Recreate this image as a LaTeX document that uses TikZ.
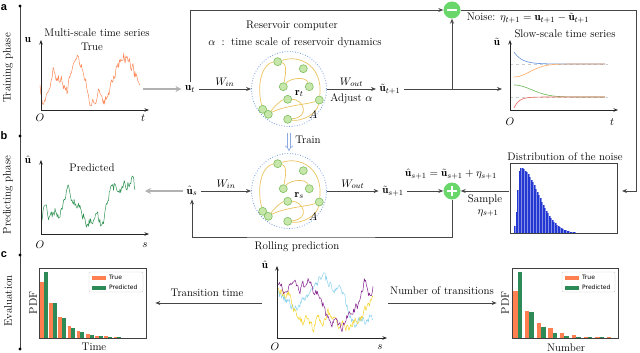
\documentclass[tikz,border=0pt]{standalone}
\usepackage{amsmath}
\usepackage{fontspec}
\usetikzlibrary{arrows.meta}
\newfontfamily\labfont{Liberation Sans}
\newfontfamily\mplfont{DejaVu Sans}
\definecolor{lgray}{RGB}{70,70,70}
\definecolor{agray}{RGB}{178,178,178}
\definecolor{serorange}{RGB}{250,135,85}
\definecolor{sergreen}{RGB}{45,145,80}
\definecolor{hcoral}{RGB}{255,127,80}
\definecolor{hgreen}{RGB}{46,139,87}
\definecolor{hblue}{RGB}{35,55,210}
\definecolor{pmgreen}{RGB}{105,215,105}
\definecolor{resblue}{RGB}{110,150,220}
\definecolor{resedgecol}{RGB}{235,195,95}
\definecolor{resnodefill}{RGB}{198,230,170}
\definecolor{resnodedraw}{RGB}{125,190,95}
\definecolor{trainblue}{RGB}{140,170,225}
\definecolor{cblue}{RGB}{95,145,220}
\definecolor{corange}{RGB}{255,170,100}
\definecolor{cgreen}{RGB}{105,180,85}
\definecolor{cred}{RGB}{230,100,90}
\definecolor{spurple}{RGB}{130,30,140}
\definecolor{sgold}{RGB}{245,210,40}
\definecolor{slblue}{RGB}{140,210,240}

\newcommand\buildseries[3]{%
  \gdef\serlist{}\gdef\sernoise{0}\gdef\serfirst{1}%
  \pgfmathsetseed{#1}%
  \foreach \xb/\yb in {#3}{%
    \ifnum\serfirst=1
      \xdef\serxa{\xb}\xdef\serya{\yb}\gdef\serfirst{0}%
      \xdef\serlist{(\xb,\yb)}%
    \else
      \pgfmathtruncatemacro\segn{max(1,round((\xb-\serxa)/0.7))}%
      \foreach \j in {1,...,\segn}{%
        \pgfmathsetmacro\sert{\j/\segn}%
        \pgfmathsetmacro\sernn{0.4*\sernoise+#2*rand}%
        \xdef\sernoise{\sernn}%
        \pgfmathsetmacro\serxx{\serxa+(\xb-\serxa)*\sert}%
        \pgfmathsetmacro\seryy{\serya+(\yb-\serya)*\sert+\sernn}%
        \xdef\serlist{\serlist (\serxx,\seryy)}%
      }%
      \xdef\serxa{\xb}\xdef\serya{\yb}%
    \fi
  }%
}
\newcommand\drawseries[1]{\edef\tmpdraw{\noexpand\draw[#1] plot coordinates {\serlist};}\tmpdraw}

\tikzset{
  conn/.style={draw=lgray, line width=0.8pt, -{Stealth[length=5pt,width=4pt]}},
  garrow/.style={draw=agray, line width=1.4pt, -{Stealth[length=6pt,width=6pt]}},
  axisar/.style={draw=black!85, line width=0.7pt, -{Stealth[length=4.5pt,width=3.5pt]}},
  hbox/.style={draw=black!75, line width=0.7pt, inner sep=0pt},
  rescircle/.style={circle, draw=resblue, dash pattern=on 0.8pt off 1.8pt, line width=0.8pt, minimum size=75pt, inner sep=0pt},
  resnode/.style={circle, fill=resnodefill, draw=resnodedraw, line width=0.6pt, minimum size=8pt, inner sep=0pt},
  redge/.style={draw=resedgecol, line width=0.7pt},
  pm/.style={circle, fill=pmgreen, minimum size=17pt, inner sep=0pt},
  ser/.style={line width=0.5pt, line join=round},
  legt/.style={anchor=west, inner sep=0pt, font=\mplfont\fontsize{6}{7}\selectfont},
  trainar/.style={draw=trainblue, double=white, double distance=2.2pt, line width=0.7pt, -{Implies}, shorten <=6pt, shorten >=2pt},
  panel/.style={font=\labfont\bfseries\fontsize{11}{13}\selectfont},
  endpt/.style={inner sep=3.5pt},
}

\newcommand\reservoir[4]{%
  \node[rescircle] (#1) at (#2,#3) {};
  \begin{scope}[shift={(#2,#3)}]
    \foreach \nx/\ny [count=\k] in {-11.3/-27.3, 14.3/-20.3, -5.7/-2.3, 20.3/-2.3, -26.3/20.3, -1.3/10.3, 30.3/11, -20.7/25.3, -1.3/30.3}
      \node[resnode] (#1n\k) at (\nx,\ny) {};
    \draw[redge] (#1n1) .. controls (-26,-26) and (-33,-6) .. (#1n5);
    \draw[redge] (#1n1) .. controls (12,-35) and (34,-22) .. (#1n7);
    \draw[redge] (#1n1) .. controls (-1,-25) and (-4,-12) .. (#1n3);
    \draw[redge] (#1n3) .. controls (1,-11) and (17,-13) .. (#1n4);
    \draw[redge] (#1n6) .. controls (-8,11) and (-15,18) .. (#1n8);
    \draw[redge] (#1n8) .. controls (-6,17) and (20,15) .. (#1n7);
    \draw[redge] (#1n6) .. controls (14,10) and (22,28) .. (#1n9);
    \draw[redge] (#1n7) .. controls (28,25) and (12,33) .. (#1n9);
    \node (#1r) at (10.3,4.7) {$\mathbf{r}_{#4}$};
    \node (#1A) at (24.3,26) {$A$};
  \end{scope}
}

\begin{document}
\begin{tikzpicture}[x=1pt,y=-1pt,font=\fontsize{11}{13}\selectfont,every node/.append style={inner sep=0.8pt}]
\useasboundingbox (0,0) rectangle (640,353);

% ---------- timeline ----------
\coordinate (tlA) at (20,6);
\coordinate (tlB) at (20,136);
\coordinate (tlC) at (20,255);
\coordinate (tlD) at (20,349);
\draw[lgray, line width=0.9pt] (tlA) -- (tlD);
\foreach \p in {tlA,tlB,tlC,tlD} \fill[black] (\p) circle (1.6pt);
\node[panel] (la) at (4,8) {a};
\node[panel] (lb) at (4,136) {b};
\node[panel] (lc) at (4,255) {c};
\node[rotate=90] (tp) at (8,68) {Training phase};
\node[rotate=90] (pp) at (8,195) {Predicting phase};
\node[rotate=90] (ev) at (8,301) {Evaluation};

% ---------- top-left plot ----------
\coordinate (o1) at (41,110);
\buildseries{11}{5}{40/85, 43/105, 48/95, 53/66, 57/77, 62/80, 67/92, 72/68, 75/55, 78/59, 82/64, 85/78, 90/100, 95/104, 100/90, 104/100, 107/99, 113/80, 118/67, 123/55, 128/61, 133/70, 137/80, 140/83}
\drawseries{ser, serorange}
\draw[axisar] (o1) -- (41,40);
\draw[axisar] (o1) -- (149,110);
\node (u1) at (28,40) {$\mathbf{u}$};
\node (o1l) at (40,118) {$O$};
\node (t1l) at (143,118) {$t$};
\node (ms) at (97,33) {Multi-scale time series};
\node (tr) at (92,47) {True};

\coordinate (trueend) at (143,89);
\node[endpt] (ut) at (190,89) {$\mathbf{u}_t$};
\draw[garrow] (trueend) -- (ut.west);

% ---------- reservoir 1 ----------
\reservoir{R1}{289}{89}{t}
\node (rc) at (292,26) {Reservoir computer};
\node (al) at (295,43) {$\alpha\;:\;$ time scale of reservoir dynamics};
\draw[conn] (ut.east) -- (R1.west) node[midway, above=1pt] {$W_{in}$};
\node[endpt] (tt1) at (390,89) {$\tilde{\mathbf{u}}_{t+1}$};
\draw[conn] (R1.east) -- (tt1.west) node[midway, above=1pt] {$W_{out}$} node[midway, below=3pt] {Adjust $\alpha$};
\coordinate (slowin) at (502,89);
\draw[conn] (tt1.east) -- (slowin);
\node[pm] (minus) at (452,10) {};
\draw[white, line width=1.8pt] ([xshift=-5pt]minus.center) -- ([xshift=5pt]minus.center);
\coordinate (j1) at (452,89);
\draw[conn] (j1) -- (minus.south);
\draw[conn] (ut.north) |- (minus.west);
\node (noise) at (528,18) {Noise: $\eta_{t+1}=\mathbf{u}_{t+1}-\tilde{\mathbf{u}}_{t+1}$};

% ---------- slow-scale plot ----------
\coordinate (o2) at (510,110);
\draw[gray!40, dashed, line width=0.4pt] (510,64) -- (608,64);
\draw[gray!40, dashed, line width=0.4pt] (510,97) -- (608,97);
\draw[cblue, line width=0.6pt] plot[domain=514:605, samples=70] (\x, {64-12*exp(-(\x-514)/8)});
\draw[corange, line width=0.6pt] plot[domain=514:605, samples=70] (\x, {64+13*exp(-((\x-514)/22)*((\x-514)/22))});
\draw[cgreen, line width=0.6pt] plot[domain=514:605, samples=70] (\x, {97-12*exp(-((\x-514)/25)*((\x-514)/25))});
\draw[cred, line width=0.6pt] plot[domain=514:605, samples=70] (\x, {97+11*exp(-(\x-514)/5)});
\draw[axisar] (o2) -- (510,40);
\draw[axisar] (o2) -- (618,110);
\node (u2) at (497,42) {$\tilde{\mathbf{u}}$};
\node (o2l) at (510,122) {$O$};
\node (t2l) at (612,122) {$t$};
\node (sst) at (565,34) {Slow-scale time series};

% ---------- noise distribution ----------
\foreach \u in {0.75,2.25,...,79.5}{
  \pgfmathsetmacro\hh{\u<6 ? 65*exp(-(\u-6)*(\u-6)/12.5) : 65*exp(-(\u-6)*(\u-6)/648)}
  \fill[hblue] (514+\u-0.75,233) rectangle (514+\u+0.75,233-\hh);
  \draw[hblue!55!white, line width=0.15pt] (514+\u+0.75,233) -- (514+\u+0.75,233-\hh);
}
\node[hbox, minimum width=107pt, minimum height=70pt] (distbox) at (563.5,198) {};
\node (distt) at (565,157) {Distribution of the noise};
\coordinate (distin) at (622,191);
\draw[conn] (minus.east) -- (636,10) |- (distin);
\node[pm] (plus) at (452,191) {};
\draw[white, line width=1.8pt] ([xshift=-5pt]plus.center) -- ([xshift=5pt]plus.center);
\draw[white, line width=1.8pt] ([yshift=-5pt]plus.center) -- ([yshift=5pt]plus.center);
\coordinate (distout) at (509,191);
\draw[conn] (distout) -- (plus.east);
\node (samp) at (485,200) {Sample};
\node (eta) at (488,213) {$\eta_{s+1}$};
\node (form) at (451,174) {$\hat{\mathbf{u}}_{s+1}=\tilde{\mathbf{u}}_{s+1}+\eta_{s+1}$};

% ---------- reservoir 2 ----------
\reservoir{R2}{289}{191}{s}
\node[endpt] (us) at (192,191) {$\hat{\mathbf{u}}_s$};
\draw[conn] (us.east) -- (R2.west) node[midway, above=1pt] {$W_{in}$};
\node[endpt] (tt2) at (393,191) {$\tilde{\mathbf{u}}_{s+1}$};
\draw[conn] (R2.east) -- (tt2.west) node[midway, above=1pt] {$W_{out}$};
\draw[conn] (tt2.east) -- (plus.west);
\coordinate (predend) at (145,191);
\draw[garrow] (us.west) -- (predend);
\coordinate (rollc) at (300,237);
\draw[conn] (plus.south) |- (rollc) -| (us.south);
\node (roll) at (297,247) {Rolling prediction};
\draw[trainar] (R1.south) -- (R2.north);
\node (train) at (308,140) {Train};

% ---------- predicted plot ----------
\coordinate (o3) at (41,234);
\buildseries{5}{4.6}{41/222, 45/208, 50/218, 55/210, 60/218, 65/197, 68/183, 72/200, 77/204, 82/212, 87/226, 92/218, 97/214, 102/228, 107/205, 110/192, 115/186, 120/190, 125/185, 130/183, 133/178, 135/188}
\drawseries{ser, sergreen}
\draw[axisar] (o3) -- (41,160);
\draw[axisar] (o3) -- (149,234);
\node (u3) at (28,160) {$\hat{\mathbf{u}}$};
\node (o3l) at (40,245) {$O$};
\node (s3l) at (145,245) {$s$};
\node (pred) at (92,168) {Predicted};

% ---------- rolling prediction plot ----------
\coordinate (o4) at (277,338);
\buildseries{44}{3.8}{278/292, 283/298, 290/304, 297/310, 302/300, 308/295, 314/287, 320/280, 325/277, 330/285, 335/290, 340/286, 345/300, 350/318, 355/325, 360/320, 365/322, 370/316, 373/320}
\drawseries{ser, slblue}
\buildseries{33}{3.8}{278/288, 283/295, 288/292, 293/305, 298/318, 303/322, 308/318, 313/330, 318/318, 323/322, 328/312, 333/318, 338/325, 343/320, 348/330, 353/322, 358/320, 363/316, 368/305, 373/297}
\drawseries{ser, sgold}
\buildseries{21}{3.8}{278/285, 285/290, 293/280, 300/290, 308/280, 313/290, 318/292, 323/305, 327/318, 332/322, 338/323, 342/327, 346/318, 350/313, 358/305, 365/280, 370/297, 373/287}
\drawseries{ser, spurple}
\draw[axisar] (o4) -- (277,266);
\draw[axisar] (o4) -- (387,338);
\node (u4) at (265,265) {$\hat{\mathbf{u}}$};
\node (o4l) at (275,347) {$O$};
\node (s4l) at (380,347) {$s$};

% ---------- histogram left ----------
\foreach \ho/\hg [count=\k from 0] in {56/65.3, 35/35, 21/19.3, 11.7/10, 7/5.3, 3.7/2.3, 2/1.3, 1.3/0.7, 0.7/0.3}{
  \fill[hcoral] (40+9.2*\k,337.7) rectangle ++(3.6,-\ho);
  \fill[hgreen] (43.6+9.2*\k,337.7) rectangle ++(4,-\hg);
}
\node[hbox, minimum width=107pt, minimum height=70pt] (hist1) at (92.5,303) {};
\draw[black!20, fill=white, rounded corners=1pt] (89,272) rectangle (143,292);
\fill[hcoral] (92,275.5) rectangle (106,279.5);
\fill[hgreen] (92,285.5) rectangle (106,289.5);
\node[legt] (l1t) at (109,277.5) {True};
\node[legt] (l1p) at (109,287.5) {Predicted};
\node[rotate=90] (pdf1) at (33,303) {PDF};
\node (time) at (94,347) {Time};

% ---------- histogram right ----------
\foreach \ho/\hg [count=\k from 0] in {46.7/65.3, 26.7/25.3, 14.3/10.3, 9.3/4.3, 5/1.7, 2.7/0.7, 1/0.3, 0.7/0.3, 0.3/0.2}{
  \fill[hcoral] (513.3+11.7*\k,337.7) rectangle ++(4.3,-\ho);
  \fill[hgreen] (517.6+11.7*\k,337.7) rectangle ++(4.5,-\hg);
}
\node[hbox, minimum width=106pt, minimum height=70pt] (hist2) at (565,303) {};
\draw[black!20, fill=white, rounded corners=1pt] (562,272) rectangle (615,292);
\fill[hcoral] (565,275.5) rectangle (579,279.5);
\fill[hgreen] (565,285.5) rectangle (579,289.5);
\node[legt] (l2t) at (582,277.5) {True};
\node[legt] (l2p) at (582,287.5) {Predicted};
\node[rotate=90] (pdf2) at (505,303) {PDF};
\node (numb) at (566,348) {Number};

% ---------- evaluation arrows ----------
\coordinate (evalL) at (262,303);
\draw[conn, shorten >=9pt] (evalL) -- (hist1.east);
\node (ttime) at (207,293) {Transition time};
\coordinate (evalR) at (388,303);
\draw[conn, shorten >=15pt] (evalR) -- (hist2.west);
\node (ntr) at (442,291) {Number of transitions};
\end{tikzpicture}
\end{document}
